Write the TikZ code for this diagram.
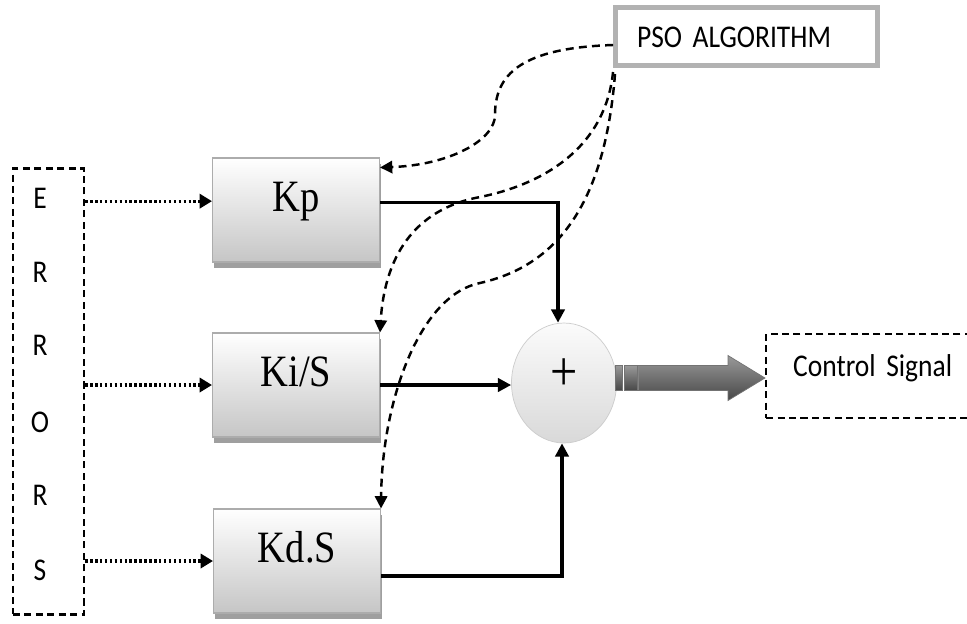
\documentclass[tikz,border=0pt]{standalone}
\usepackage{fontspec}
\usetikzlibrary{arrows.meta,shapes.geometric,shadows,calc}
\newfontfamily\blockfont[FakeStretch=0.86]{Liberation Serif}
\newfontfamily\labelfont[FakeStretch=0.87]{Carlito}
\DeclareRobustCommand\labeltextfont{\labelfont\fontsize{18}{20}\selectfont\spaceskip=0.12em\relax}
\begin{document}
\begin{tikzpicture}[x=0.02cm,y=-0.02cm,
    block/.style={draw=gray!65,line width=0.6pt,top color=white,bottom color=gray!45,
      minimum width=3.34cm,minimum height=2.08cm,
      drop shadow={shadow xshift=0.03cm,shadow yshift=-0.12cm,fill=gray!75,opacity=1},
      font=\blockfont\fontsize{25.5}{30}\selectfont,text height=0.72em,text depth=0.58em},
    dashbox/.style={draw,line width=1.4pt,dash pattern=on 4pt off 2.5pt},
    letter/.style={font=\labeltextfont,text height=0.63em,text depth=0pt,inner sep=0pt},
    sumnode/.style={ellipse,draw=gray!40,top color=gray!3,bottom color=gray!30,
      minimum width=2.1cm,minimum height=2.4cm,inner sep=0pt,
      font=\blockfont\fontsize{32}{36}\selectfont,text height=0.85em,text depth=0pt},
    dotarrow/.style={line width=1.9pt,dash pattern=on 1.4pt off 1.4pt,-{Triangle[length=7pt,width=8pt]}},
    sumarrow/.style={line width=2pt,-{Triangle[length=7.5pt,width=7.5pt]}},
    psoarrow/.style={line width=1.4pt,dash pattern=on 4.5pt off 3pt,-{Triangle[length=7pt,width=7pt]}},
    bigarrow/.style={top color=black!40,bottom color=black!72,draw=black!55,line width=0.4pt}]
  \useasboundingbox (0,0) rectangle (967,623);
  \fill[white] (0,0) rectangle (967,623);

  % errors column
  \node[dashbox,minimum width=1.42cm,minimum height=8.92cm] (err) at (48.5,391.5) {};
  \foreach \ch/\y [count=\i] in {E/203,R/277,R/350,O/427,R/500,S/575}
    \node[letter] (letter\i) at (40,\y) {\ch};

  % gain blocks
  \node[block] (kp) at (296,210) {Kp};
  \node[block] (kis) at (296,385) {Ki/S};
  \node[block] (kds) at (297,561) {Kd.S};

  \node[sumnode] (sum) at (564,383) {+};

  \node[draw=gray!60,line width=0.1cm,minimum width=5.24cm,minimum height=1.16cm,
    text width=4.38cm,align=left,inner xsep=0.43cm,inner ysep=2pt,
    font=\labeltextfont,text height=1.4em,text depth=0.1em]
    (pso) at (746.5,36.5) {PSO ALGORITHM};

  \node[dashbox,anchor=west,minimum width=4.3cm,minimum height=1.68cm,
    text width=3.22cm,align=left,inner xsep=0.54cm,
    font=\labeltextfont,text height=0.7em,text depth=0.7em]
    (ctrl) at (765,376) {Control Signal};

  % errors to blocks
  \draw[dotarrow] (err.east |- kp.174) -- (kp.174);
  \draw[dotarrow] (err.east |- kis.west) -- (kis.west);
  \draw[dotarrow] (err.east |- kds.west) -- (kds.west);

  % blocks to sum
  \draw[sumarrow] (kp.5) -| ([xshift=-0.12cm]sum.north);
  \draw[sumarrow] (kis.east) -- (kis.east -| sum.west);
  \draw[sumarrow] (kds.-10) -| ([xshift=-0.04cm]sum.south);

  % tuning
  \draw[psoarrow] ([yshift=-0.17cm]pso.west) .. controls (520,48) and (495,75) .. (495,115)
    .. controls (495,140) and (450,165) .. ([yshift=-0.2cm]kp.north east);
  \draw[psoarrow] ([yshift=-0.08cm]pso.south west) .. controls (605,150) and (540,185) .. (480,197)
    .. controls (420,208) and (385,250) .. (kis.north east);
  \draw[psoarrow] ([xshift=0.04cm,yshift=-0.12cm]pso.south west) .. controls (605,200) and (560,265) .. (480,283)
    .. controls (420,295) and (382,400) .. (kds.north east);

  % output arrow
  \shade[bigarrow] ($(sum.east)+(-0.03cm,0.35cm)$) rectangle ($(sum.east)+(0.11cm,-0.15cm)$);
  \shade[bigarrow] ($(sum.east)+(0.15cm,0.35cm)$) rectangle ($(sum.east)+(0.41cm,-0.15cm)$);
  \shade[bigarrow] ($(sum.east)+(0.43cm,0.35cm)$) -- ($(ctrl.west)+(-0.74cm,0.21cm)$)
    -- ($(ctrl.west)+(-0.74cm,0.41cm)$) -- ($(ctrl.west)+(0,-0.04cm)$)
    -- ($(ctrl.west)+(-0.74cm,-0.49cm)$) -- ($(ctrl.west)+(-0.74cm,-0.29cm)$)
    -- ($(sum.east)+(0.43cm,-0.15cm)$) -- cycle;
\end{tikzpicture}
\end{document}
